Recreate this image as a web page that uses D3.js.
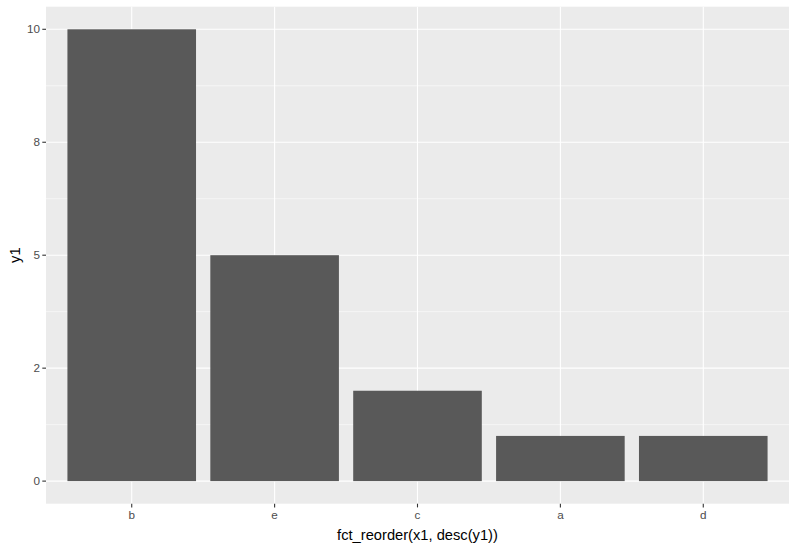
<!DOCTYPE html>
<html>
<head>
<meta charset="utf-8">
<script src="https://cdn.jsdelivr.net/npm/d3@7"></script>
<style>
  body { margin: 0; background: #fff; }
  text { font-family: "Liberation Sans", Arial, sans-serif; }
</style>
</head>
<body>
<svg id="chart" width="797" height="549"></svg>
<script>
// data
const categories = ["b", "e", "c", "a", "d"];
const y1 = [10, 5, 2, 1, 1];
const yTicks = [0, 2.5, 5, 7.5, 10];
const yTickLabels = ["0", "2", "5", "8", "10"];
const yMinor = [1.25, 3.75, 6.25, 8.75];

const svg = d3.select("#chart");
const panel = { left: 46, top: 6.7, right: 789, bottom: 503.7 };

// ggplot-style expansion: 5% continuous, 0.6 units discrete
const y = d3.scaleLinear().domain([-0.5, 10.5]).range([panel.bottom, panel.top]);
const xPos = d3.scaleLinear().domain([0.4, categories.length + 0.6]).range([panel.left, panel.right]);
const x = d => xPos(categories.indexOf(d) + 1);

// panel background
svg.append("rect")
  .attr("x", panel.left).attr("y", panel.top)
  .attr("width", panel.right - panel.left).attr("height", panel.bottom - panel.top)
  .attr("fill", "#EBEBEB");

const grid = svg.append("g");
grid.selectAll(".minor").data(yMinor).enter().append("line")
  .attr("x1", panel.left).attr("x2", panel.right)
  .attr("y1", d => y(d)).attr("y2", d => y(d))
  .attr("stroke", "#fff").attr("stroke-width", 0.55);
grid.selectAll(".major").data(yTicks).enter().append("line")
  .attr("x1", panel.left).attr("x2", panel.right)
  .attr("y1", d => y(d)).attr("y2", d => y(d))
  .attr("stroke", "#fff").attr("stroke-width", 1.1);
grid.selectAll(".vmajor").data(categories).enter().append("line")
  .attr("x1", d => x(d)).attr("x2", d => x(d))
  .attr("y1", panel.top).attr("y2", panel.bottom)
  .attr("stroke", "#fff").attr("stroke-width", 1.1);

// bars
const barHalf = (xPos(1.45) - xPos(1));
svg.append("g").selectAll("rect").data(categories).enter().append("rect")
  .attr("x", d => x(d) - barHalf)
  .attr("width", barHalf * 2)
  .attr("y", (d, i) => y(y1[i]))
  .attr("height", (d, i) => y(0) - y(y1[i]))
  .attr("fill", "#595959");

// y axis
const yAxis = svg.append("g");
yAxis.selectAll("line").data(yTicks).enter().append("line")
  .attr("x1", panel.left - 3.7).attr("x2", panel.left)
  .attr("y1", d => y(d)).attr("y2", d => y(d))
  .attr("stroke", "#333333").attr("stroke-width", 1.1);
yAxis.selectAll("text").data(yTicks).enter().append("text")
  .attr("x", panel.left - 6)
  .attr("y", d => y(d))
  .attr("dy", "0.35em")
  .attr("text-anchor", "end")
  .attr("font-size", 11.7)
  .attr("fill", "#4D4D4D")
  .text((d, i) => yTickLabels[i]);

// x axis
const xAxis = svg.append("g");
xAxis.selectAll("line").data(categories).enter().append("line")
  .attr("x1", d => x(d)).attr("x2", d => x(d))
  .attr("y1", panel.bottom).attr("y2", panel.bottom + 3.7)
  .attr("stroke", "#333333").attr("stroke-width", 1.1);
xAxis.selectAll("text").data(categories).enter().append("text")
  .attr("x", d => x(d))
  .attr("y", panel.bottom + 6)
  .attr("dy", "0.8em")
  .attr("text-anchor", "middle")
  .attr("font-size", 11.7)
  .attr("fill", "#4D4D4D")
  .text(d => d);

// axis titles
svg.append("text")
  .attr("x", (panel.left + panel.right) / 2)
  .attr("y", 540)
  .attr("text-anchor", "middle")
  .attr("font-size", 14.7)
  .attr("fill", "#000")
  .text("fct_reorder(x1, desc(y1))");
svg.append("text")
  .attr("transform", `translate(20,${(panel.top + panel.bottom) / 2}) rotate(-90)`)
  .attr("text-anchor", "middle")
  .attr("font-size", 14.7)
  .attr("fill", "#000")
  .text("y1");
</script>
</body>
</html>
